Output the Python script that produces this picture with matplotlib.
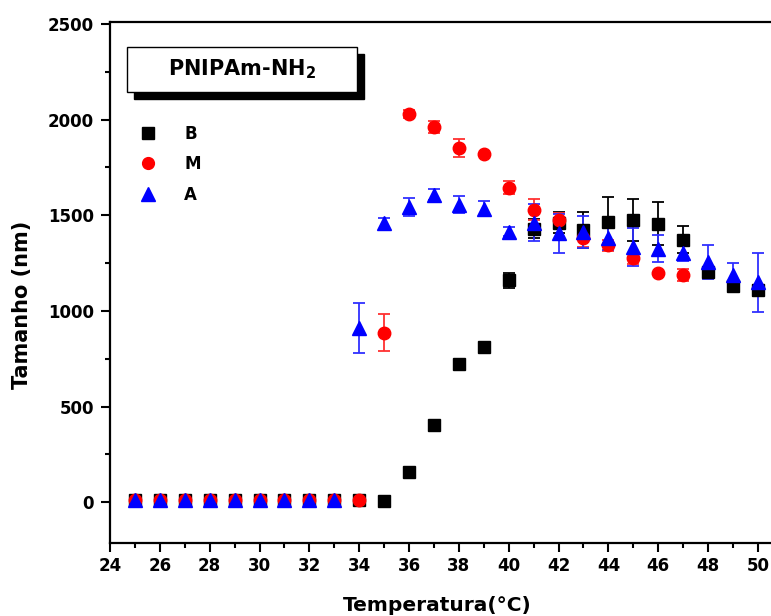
import numpy as np
import matplotlib.pyplot as plt
from matplotlib.lines import Line2D
from matplotlib.patches import Rectangle
from matplotlib.ticker import MultipleLocator

plt.rcParams['font.family'] = ['DejaVu Sans']
plt.rcParams['font.weight'] = 'bold'

# temperatura (C)
temp_B = [25, 26, 27, 28, 29, 30, 31, 32, 33, 34, 35, 36, 37, 38, 39, 40, 41, 42, 43, 44, 45, 46, 47, 48, 49, 50]
size_B = [10, 10, 10, 10, 10, 10, 10, 10, 10, 10, 5, 160, 405, 720, 812, 1160, 1430, 1462, 1424, 1465, 1476, 1455, 1372, 1204, 1130, 1108]
err_B = [8, 8, 8, 8, 8, 8, 8, 8, 8, 8, 0, 0, 0, 0, 0, 40, 50, 57, 95, 132, 110, 112, 70, 15, 12, 30]

temp_M = [25, 26, 27, 28, 29, 30, 31, 32, 33, 34, 35, 36, 37, 38, 39, 40, 41, 42, 43, 44, 45, 46, 47]
size_M = [10, 10, 10, 10, 10, 10, 10, 10, 10, 10, 885, 2030, 1960, 1850, 1820, 1645, 1528, 1474, 1380, 1343, 1275, 1200, 1188]
err_M = [8, 8, 8, 8, 8, 8, 8, 8, 8, 8, 97, 20, 30, 48, 0, 35, 55, 40, 48, 30, 30, 0, 30]

temp_A = [25, 26, 27, 28, 29, 30, 31, 32, 33, 34, 35, 36, 37, 38, 39, 40, 41, 42, 43, 44, 45, 46, 47, 48, 49, 50]
size_A = [10, 10, 10, 10, 10, 10, 10, 10, 10, 910, 1458, 1543, 1608, 1555, 1535, 1415, 1462, 1405, 1412, 1380, 1335, 1325, 1303, 1256, 1188, 1150]
err_A = [8, 8, 8, 8, 8, 8, 8, 8, 8, 130, 30, 45, 30, 45, 40, 25, 95, 103, 85, 60, 100, 70, 40, 88, 62, 155]

fig = plt.figure(figsize=(7.71, 6.16), dpi=100)
ax_w = 661 + 8
ax_h = 543 - 22
ax = fig.add_axes([110/771, 1-543/616, ax_w/771, ax_h/616])

ax.errorbar(temp_B, size_B, yerr=err_B, fmt='s', color='black', ms=8.5,
            ecolor='black', elinewidth=1.3, capsize=4.5, capthick=1.3)
ax.errorbar(temp_M, size_M, yerr=err_M, fmt='o', color='#ff0000', ms=9,
            ecolor='#ff3030', elinewidth=1.3, capsize=4.5, capthick=1.3)
ax.errorbar(temp_A, size_A, yerr=err_A, fmt='^', color='#0000ff', ms=10,
            ecolor='#3030ff', elinewidth=1.3, capsize=4.5, capthick=1.3)

ax.set_xlim(24, 24 + ax_w/24.92)
ax.set_ylim(-213, 2510)
ax.xaxis.set_major_locator(MultipleLocator(2))
ax.xaxis.set_minor_locator(MultipleLocator(1))
ax.yaxis.set_major_locator(MultipleLocator(500))
ax.yaxis.set_minor_locator(MultipleLocator(250))
ax.tick_params(which='major', direction='out', length=6.5, width=1.5, labelsize=12)
ax.tick_params(which='minor', direction='out', length=3.5, width=1.5)
ax.tick_params(axis='y', which='major', pad=5)
ax.tick_params(axis='x', which='major', pad=3.5)
for lab in ax.get_xticklabels() + ax.get_yticklabels():
    lab.set_fontweight('bold')
for s in ax.spines.values():
    s.set_linewidth(1.6)
ax.spines['right'].set_visible(False)

ax.set_xlabel('Temperatura(°C)', fontsize=14.5, fontweight='bold')
ax.xaxis.set_label_coords((437-110)/ax_w, (543-596)/ax_h)
ax.set_ylabel('Tamanho (nm)', fontsize=15, fontweight='bold')
ax.yaxis.set_label_coords((32-110)/ax_w, (543-305)/ax_h)

# title box with shadow
bx, by, bw, bh = (127-110)/ax_w, (543-92)/ax_h, 230/ax_w, 45/ax_h
ax.add_patch(Rectangle((bx + 7/ax_w, by - 7/ax_h), bw, bh, transform=ax.transAxes,
                       facecolor='black', edgecolor='black', zorder=5))
ax.add_patch(Rectangle((bx, by), bw, bh, transform=ax.transAxes,
                       facecolor='white', edgecolor='black', lw=1.0, zorder=6))
ax.text(bx + bw/2, by + bh/2, 'PNIPAm-NH$_\\mathbf{2}$', transform=ax.transAxes,
        ha='center', va='center', fontsize=15, fontweight='bold', zorder=7)

handles = [Line2D([], [], marker='s', ls='none', color='black', ms=8),
           Line2D([], [], marker='o', ls='none', color='#ff0000', ms=8.5),
           Line2D([], [], marker='^', ls='none', color='#0000ff', ms=9.5)]
ax.legend(handles, ['B', 'M', 'A'], loc='upper left', bbox_to_anchor=(0.016, 0.832),
          frameon=False, prop={'weight': 'bold', 'size': 12},
          handlelength=1.5, handletextpad=1.4, labelspacing=0.75)

fig.savefig('out.png', dpi=100)
